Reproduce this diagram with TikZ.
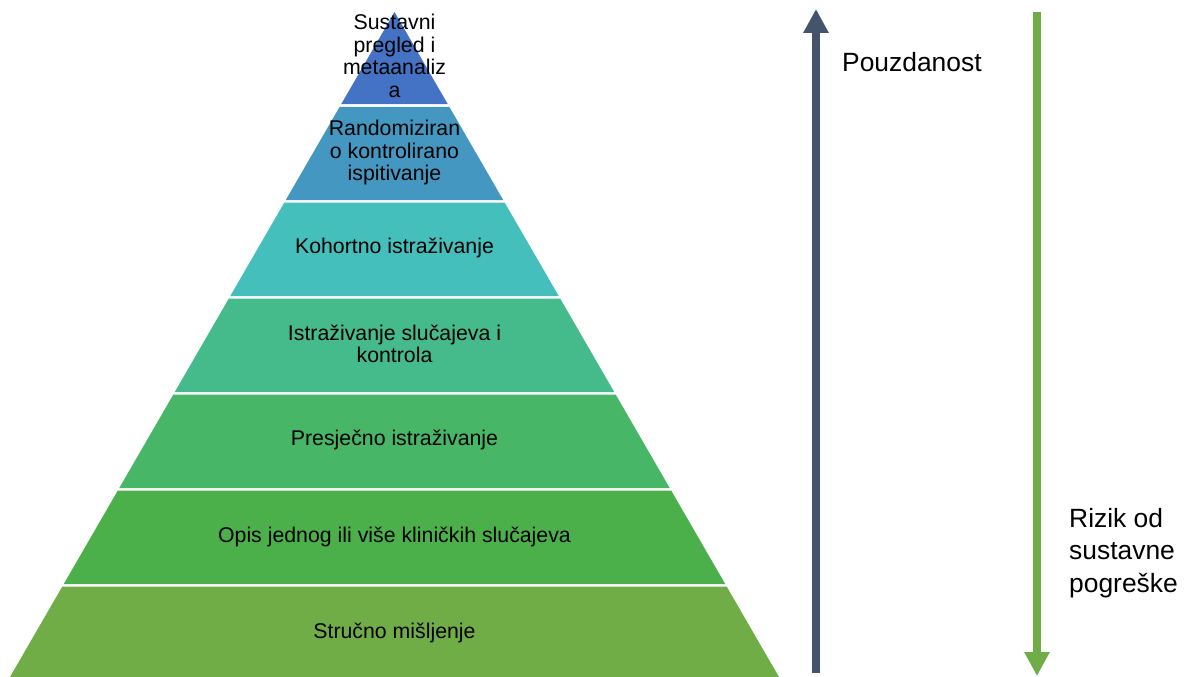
\documentclass[tikz,border=0pt]{standalone}
\usepackage{fontspec}
\setmainfont{Liberation Sans}
\usetikzlibrary{arrows.meta}
\definecolor{c1}{HTML}{4472C4}
\definecolor{c2}{HTML}{4397C0}
\definecolor{c3}{HTML}{45BFBB}
\definecolor{c4}{HTML}{45BA8B}
\definecolor{c5}{HTML}{47B667}
\definecolor{c6}{HTML}{4CB04A}
\definecolor{c7}{HTML}{70AD47}
\definecolor{darkarrow}{HTML}{44546A}
\definecolor{greenarrow}{HTML}{70AD47}
\tikzset{
  bandtext/.style={align=center, text=black, font=\fontsize{21.3}{22.5}\selectfont, inner sep=0pt},
  sidetext/.style={align=left, text=black, font=\fontsize{26.4}{32.5}\selectfont, inner sep=0pt, anchor=west},
  bigarrow/.style={line width=8pt, -{Triangle[width=24pt,length=24pt]}},
}
\newcommand{\pyrband}[3]{% top y, bottom y, colour
  \pgfmathsetmacro{\hwt}{(#1-12)*0.5782}
  \pgfmathsetmacro{\hwb}{(#2-12)*0.5782}
  \fill[#3] ({394.5-\hwt},#1) -- ({394.5+\hwt},#1) -- ({394.5+\hwb},#2) -- ({394.5-\hwb},#2) -- cycle;
}
\begin{document}
\begin{tikzpicture}[x=1pt,y=-1pt]
\useasboundingbox (0,0) rectangle (1184,677);
\pyrband{12}{104.2}{c1}
\pyrband{106.8}{200}{c2}
\pyrband{202.6}{296}{c3}
\pyrband{298.6}{392}{c4}
\pyrband{394.6}{488}{c5}
\pyrband{490.6}{584}{c6}
\pyrband{586.6}{677}{c7}
\node[bandtext] (t1) at (394.5,56) {Sustavni\\pregled i\\metaanaliz\\a};
\node[bandtext] (t2) at (394.5,152.5) {Randomiziran\\o kontrolirano\\ispitivanje};
\node[bandtext] (t3) at (394.5,248) {Kohortno istraživanje};
\node[bandtext] (t4) at (394.5,344) {Istraživanje slučajeva i\\kontrola};
\node[bandtext] (t5) at (394.5,440) {Presječno istraživanje};
\node[bandtext] (t6) at (394.5,537) {Opis jednog ili više kliničkih slučajeva};
\node[bandtext] (t7) at (394.5,633) {Stručno mišljenje};
\coordinate (da) at (816,673);
\coordinate (db) at (816,9);
\coordinate (ga) at (1037,12);
\coordinate (gb) at (1037,676);
\draw[bigarrow, darkarrow] (da) -- (db);
\draw[bigarrow, greenarrow] (ga) -- (gb);
\node[sidetext] (pz) at (842,62) {Pouzdanost};
\node[sidetext] (rz) at (1069,553) {Rizik od\\sustavne\\pogreške};
\end{tikzpicture}
\end{document}
